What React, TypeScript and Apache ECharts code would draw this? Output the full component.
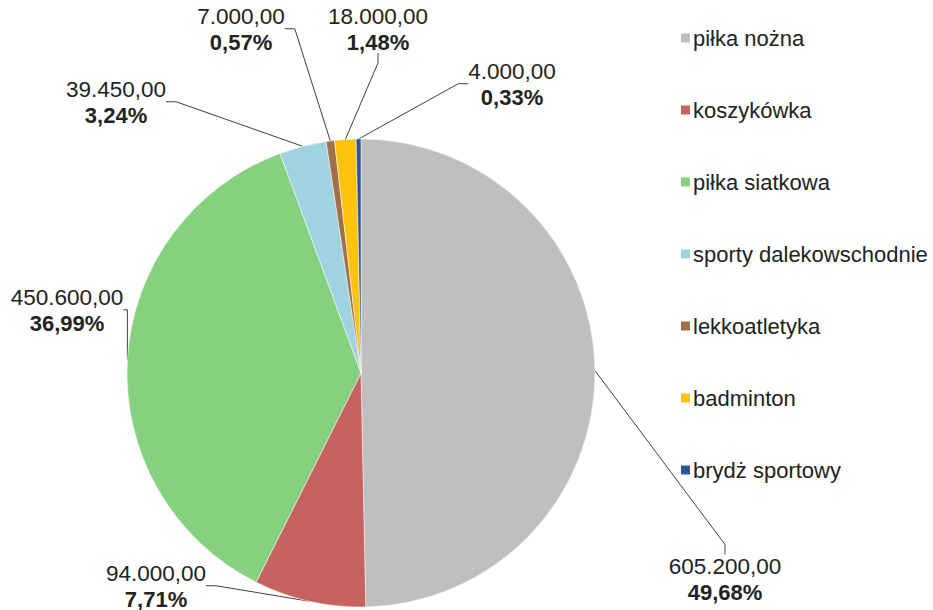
import React, { useEffect, useRef } from "react";
import * as echarts from "echarts";

const categories = [
  "piłka nożna",
  "koszykówka",
  "piłka siatkowa",
  "sporty dalekowschodnie",
  "lekkoatletyka",
  "badminton",
  "brydż sportowy",
];
const values = [605200, 94000, 450600, 39450, 7000, 18000, 4000];
const percentLabels = ["49,68%", "7,71%", "36,99%", "3,24%", "0,57%", "1,48%", "0,33%"];
const colors = ["#BFBFBF", "#C8625F", "#86D17F", "#9FD3E0", "#A0704A", "#FFC20E", "#2C559B"];

// label anchor positions (layout only)
const labelPos: [number, number][] = [
  [725, 579],
  [156, 586],
  [67, 310],
  [116, 102],
  [241, 29],
  [378, 29],
  [512, 84],
];

function fmt(v: number): string {
  const s = v.toFixed(2);
  const [i, d] = s.split(".");
  return i.replace(/\B(?=(\d{3})+(?!\d))/g, ".") + "," + d;
}

const FONT = "Liberation Sans, Arial, sans-serif";

export default function App() {
  const ref = useRef<HTMLDivElement>(null);
  useEffect(() => {
    document.body.style.margin = "0";
    const chart = echarts.init(ref.current!, undefined, { renderer: "svg" });
    chart.setOption({
      animation: false,
      backgroundColor: "#ffffff",
      color: colors,
      legend: {
        orient: "vertical",
        left: 674,
        top: 21,
        itemWidth: 11,
        itemHeight: 11,
        itemGap: 48,
        icon: "rect",
        textStyle: {
          fontFamily: FONT,
          fontSize: 22,
          color: "#222",
          lineHeight: 24,
          padding: [0, 0, 0, -3],
        },
        data: categories,
      },
      series: [
        {
          type: "pie",
          center: [361, 373],
          radius: 234,
          startAngle: 90,
          clockwise: true,
          avoidLabelOverlap: false,
          itemStyle: { borderColor: "#ffffff", borderWidth: 0.5 },
          label: {
            show: true,
            position: "outside",
            formatter: (p: any) => `{v|${fmt(values[p.dataIndex])}}\n{p|${percentLabels[p.dataIndex]}}`,
            rich: {
              v: { fontFamily: FONT, fontSize: 22.5, color: "#222", lineHeight: 26, align: "center" },
              p: { fontFamily: FONT, fontSize: 22, fontWeight: "bold", color: "#222", lineHeight: 26, align: "center" },
            },
          },
          labelLine: { show: true, length: 10, length2: 10, lineStyle: { color: "#404040", width: 1 } },
          labelLayout: (params: any) => {
            const [x, y] = labelPos[params.dataIndex];
            return { x, y, align: "center", verticalAlign: "middle" };
          },
          data: categories.map((c, i) => ({ name: c, value: values[i] })),
        },
      ],
    });
    return () => chart.dispose();
  }, []);
  return <div ref={ref} style={{ width: 933, height: 610 }} />;
}
